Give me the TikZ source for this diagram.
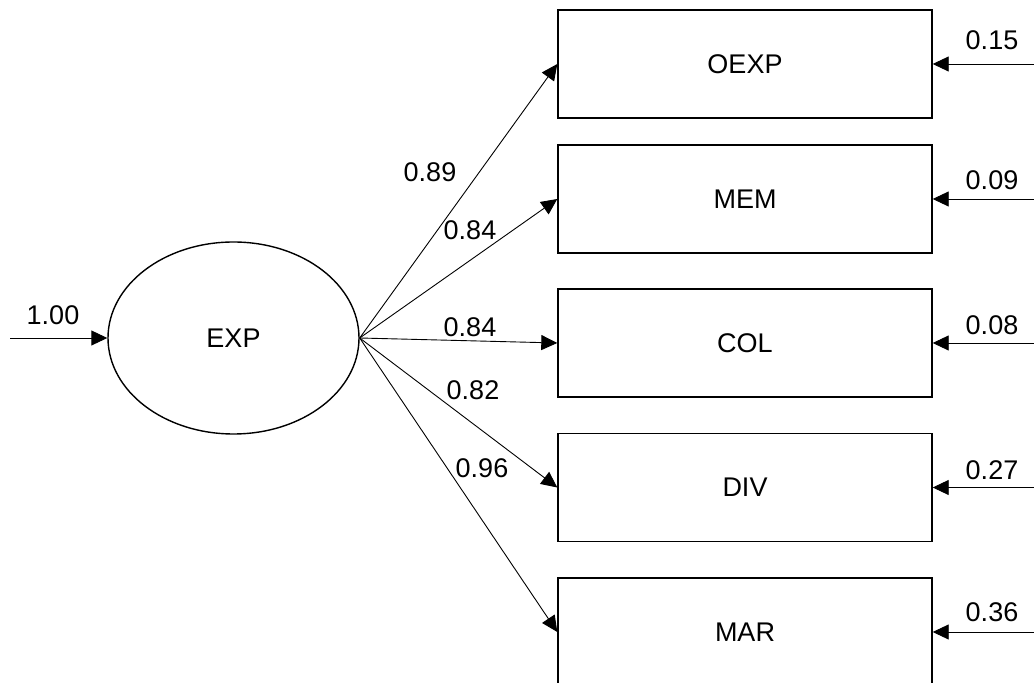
\documentclass[tikz,border=0pt]{standalone}
\usepackage{fontspec}
\setmainfont{Liberation Sans}
\usetikzlibrary{arrows.meta,shapes.geometric}

\begin{document}
\begin{tikzpicture}[
x=0.5pt, y=-0.5pt,
every node/.style={font=\fontsize{13.5}{16}\selectfont},
latent/.style={draw, ellipse, line width=0.7pt, inner sep=0pt,
  minimum width=125.5pt, minimum height=96pt},
indicator/.style={draw, rectangle, line width=0.7pt, inner sep=0pt,
  minimum width=187pt, minimum height=54pt},
load/.style={line width=0.45pt, -{Triangle[length=8pt,width=7.5pt]}},
coef/.style={inner sep=0pt},
]
\clip (0,0) rectangle (1034,683);

\node[latent] (exp) at (233.5,338) {EXP};
\coordinate (vin) at (10,338);
\draw[load] (vin) -- (exp.west);
\node[coef] (vexp) at (53,315) {1.00};

\foreach \name/\txt/\y/\lam/\lx/\ly/\err/\ey in {
  oexp/OEXP/64/0.89/430/172/0.15/40,
  mem/MEM/199/0.84/470/230/0.09/180,
  col/COL/343/0.84/470/327/0.08/325,
  div/DIV/487.5/0.82/473/390/0.27/470,
  mar/MAR/632/0.96/482/468/0.36/612}
{
\node[indicator] (\name) at (745,\y) {\txt};
\draw[load] (exp.east) -- (\name.west);
\node[coef] (l\name) at (\lx,\ly) {\lam};
\coordinate (e\name) at (1034,\y);
\draw[load] (e\name) -- (\name.east);
\node[coef] (r\name) at (992,\ey) {\err};
}
\end{tikzpicture}
\end{document}
